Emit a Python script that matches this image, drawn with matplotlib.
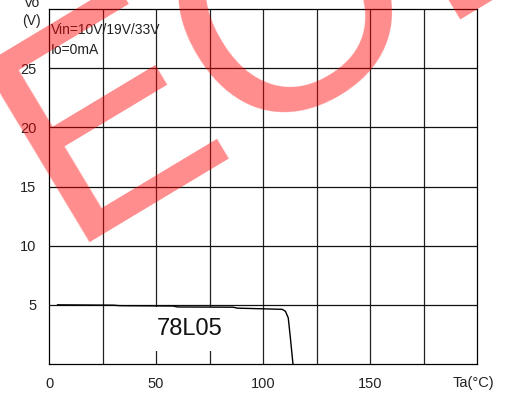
import numpy as np
import matplotlib.pyplot as plt

plt.rcParams['font.family'] = ['Liberation Sans', 'DejaVu Sans']

# 78L05 output voltage vs ambient temperature
ta = [4, 30, 33, 58, 60, 86, 88, 109, 110.5, 111.8, 112.8, 114.0]
vo = [5.0, 4.97, 4.93, 4.9, 4.82, 4.8, 4.72, 4.62, 4.45, 3.9, 2.2, 0.0]

x_ticks = [0, 50, 100, 150]
y_ticks = [5, 10, 15, 20, 25]

fig = plt.figure(figsize=(5.05, 3.96), dpi=100)
ax = fig.add_axes([49 / 505, 1 - 364 / 396, 428 / 505, 355 / 396])

ax.set_xlim(0, 200)
ax.set_ylim(0, 30)

# grid
for gx in np.arange(25, 200, 25):
    ax.axvline(gx, color='#222222', lw=0.9, zorder=1)
for gy in y_ticks:
    ax.axhline(gy, color='#111111', lw=0.9, zorder=1)

ax.plot(ta, vo, color='black', lw=1.0, zorder=3)

ax.set_xticks(x_ticks)
ax.set_yticks(y_ticks)
ax.tick_params(length=0, labelsize=10.5, colors='#222222', pad=9)
for s in ax.spines.values():
    s.set_color('black')
    s.set_linewidth(0.9)

ax.text(65.9, 2.96, '78L05', fontsize=17, ha='center', va='center', color='#111111',
        zorder=2, bbox=dict(facecolor='white', edgecolor='none', pad=8))

fig.text(51 / 505, 1 - 30 / 396, 'Vin=10V/19V/33V', fontsize=10, va='center', color='#222222')
fig.text(51 / 505, 1 - 50 / 396, 'Io=0mA', fontsize=10, va='center', color='#222222')
fig.text(32 / 505, 1 - 3 / 396, 'Vo', fontsize=10, ha='center', va='center', color='#222222')
fig.text(31 / 505, 1 - 21 / 396, '(V)', fontsize=10, ha='center', va='center', color='#222222')
fig.text(473 / 505, 1 - 383 / 396, 'Ta(°C)', fontsize=10.5, ha='center', va='center', color='#222222')

# EOL stamp
fig.text(65 / 505, 1 - 242 / 396, 'EOL', fontsize=216, rotation=31, rotation_mode='anchor',
         ha='left', va='baseline', color='red', alpha=0.45, zorder=10)

fig.savefig('out.png', dpi=100)
